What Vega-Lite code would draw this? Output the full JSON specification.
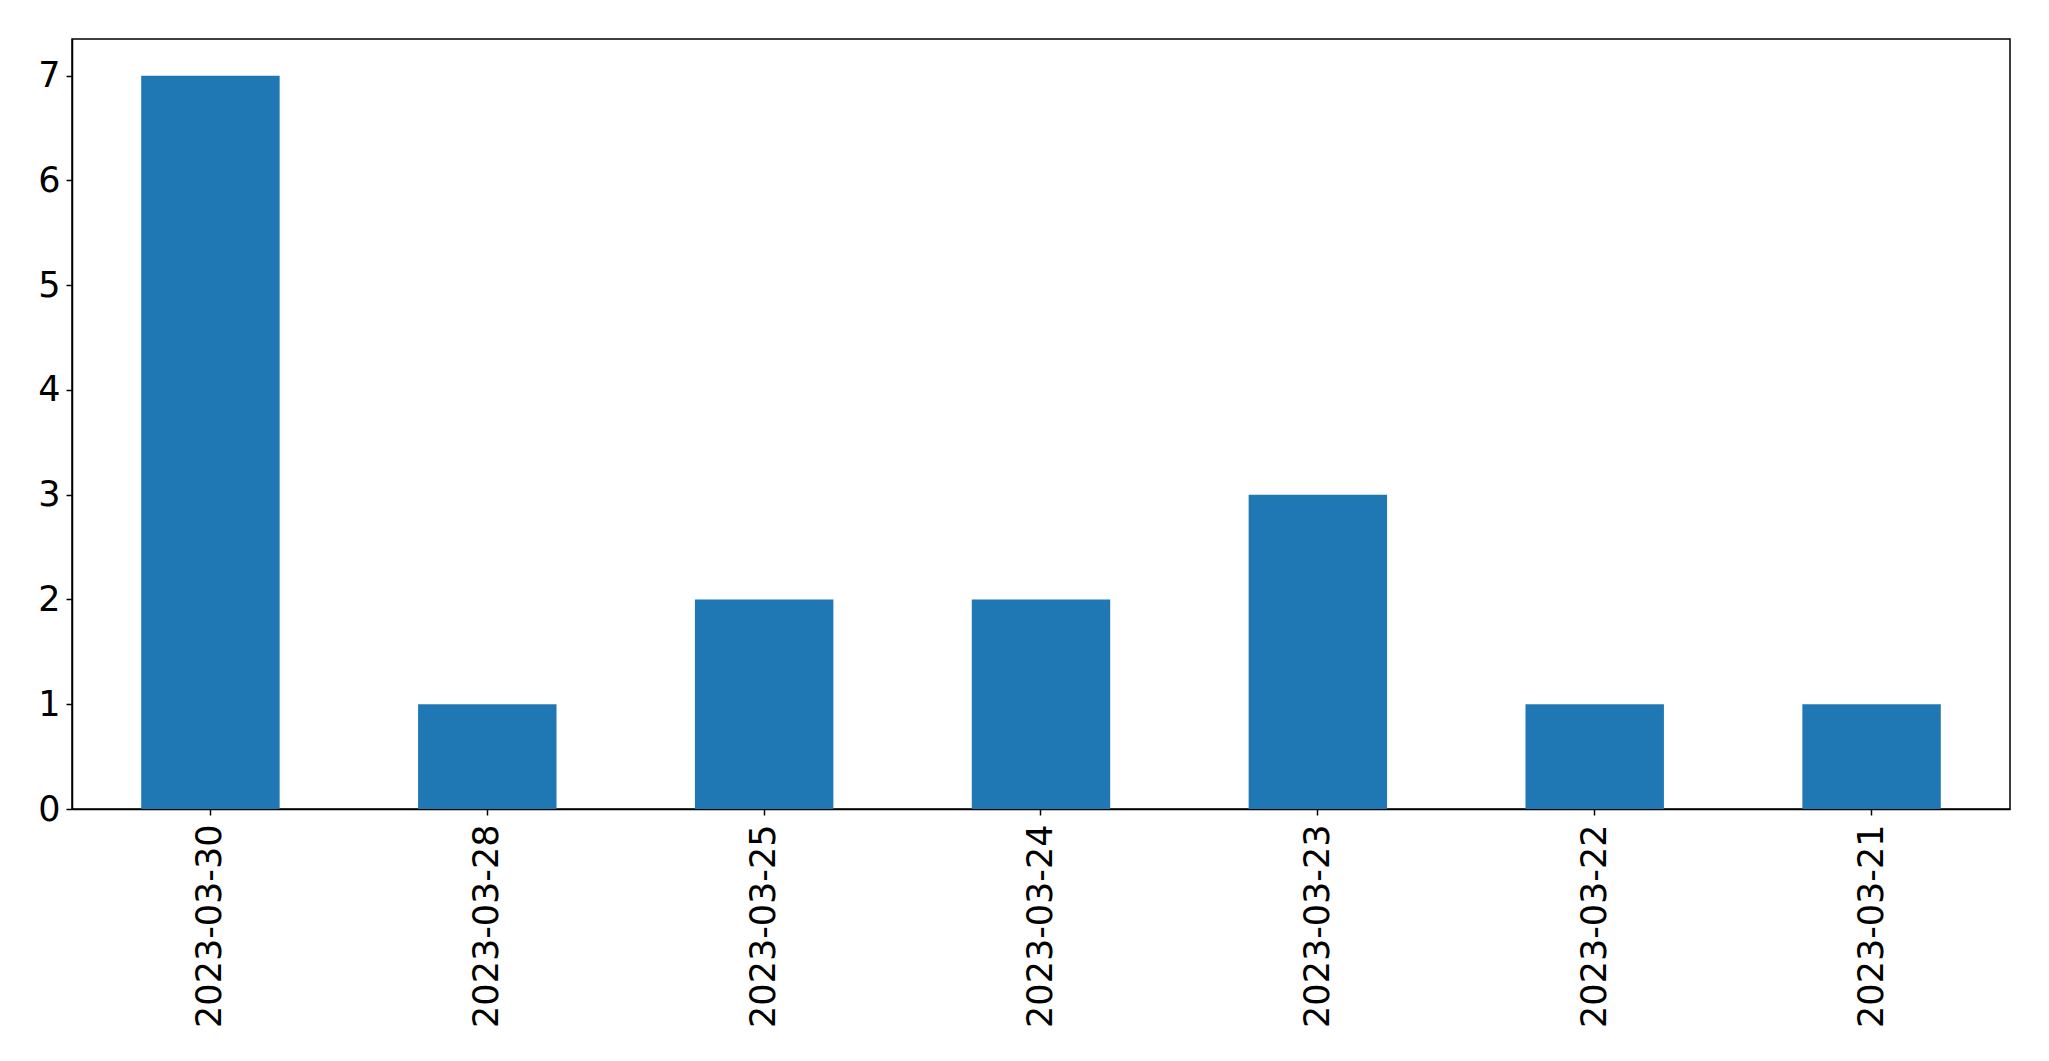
{
  "$schema": "https://vega.github.io/schema/vega-lite/v6.json",
  "autosize": {"type": "none"},
  "padding": {"left": 72, "top": 39, "right": 39, "bottom": 252},
  "width": 1938,
  "height": 770,
  "background": "white",
  "config": {
    "view": {"stroke": "black", "strokeWidth": 1.5},
    "font": "DejaVu Sans"
  },
  "data": {
    "values": [
      {"date": "2023-03-30", "count": 7},
      {"date": "2023-03-28", "count": 1},
      {"date": "2023-03-25", "count": 2},
      {"date": "2023-03-24", "count": 2},
      {"date": "2023-03-23", "count": 3},
      {"date": "2023-03-22", "count": 1},
      {"date": "2023-03-21", "count": 1}
    ]
  },
  "mark": {"type": "bar", "color": "#1f77b4"},
  "encoding": {
    "x": {
      "field": "date",
      "type": "nominal",
      "sort": null,
      "scale": {"paddingInner": 0.5, "paddingOuter": 0.25},
      "axis": {
        "title": null,
        "labelAngle": -90,
        "labelAlign": "right",
        "labelBaseline": "middle",
        "labelFont": "DejaVu Sans",
        "labelFontSize": 35,
        "labelLimit": 0,
        "labelColor": "black",
        "labelPadding": 9,
        "tickSize": 6,
        "tickColor": "black",
        "tickWidth": 1.5,
        "domainColor": "black",
        "domainWidth": 1.5,
        "grid": false
      }
    },
    "y": {
      "field": "count",
      "type": "quantitative",
      "scale": {"domain": [0, 7.35], "nice": false, "zero": true},
      "axis": {
        "title": null,
        "values": [0, 1, 2, 3, 4, 5, 6, 7],
        "labelFont": "DejaVu Sans",
        "labelFontSize": 35,
        "labelColor": "black",
        "labelPadding": 6,
        "tickSize": 6,
        "tickColor": "black",
        "tickWidth": 1.5,
        "domainColor": "black",
        "domainWidth": 1.5,
        "grid": false
      }
    }
  }
}
